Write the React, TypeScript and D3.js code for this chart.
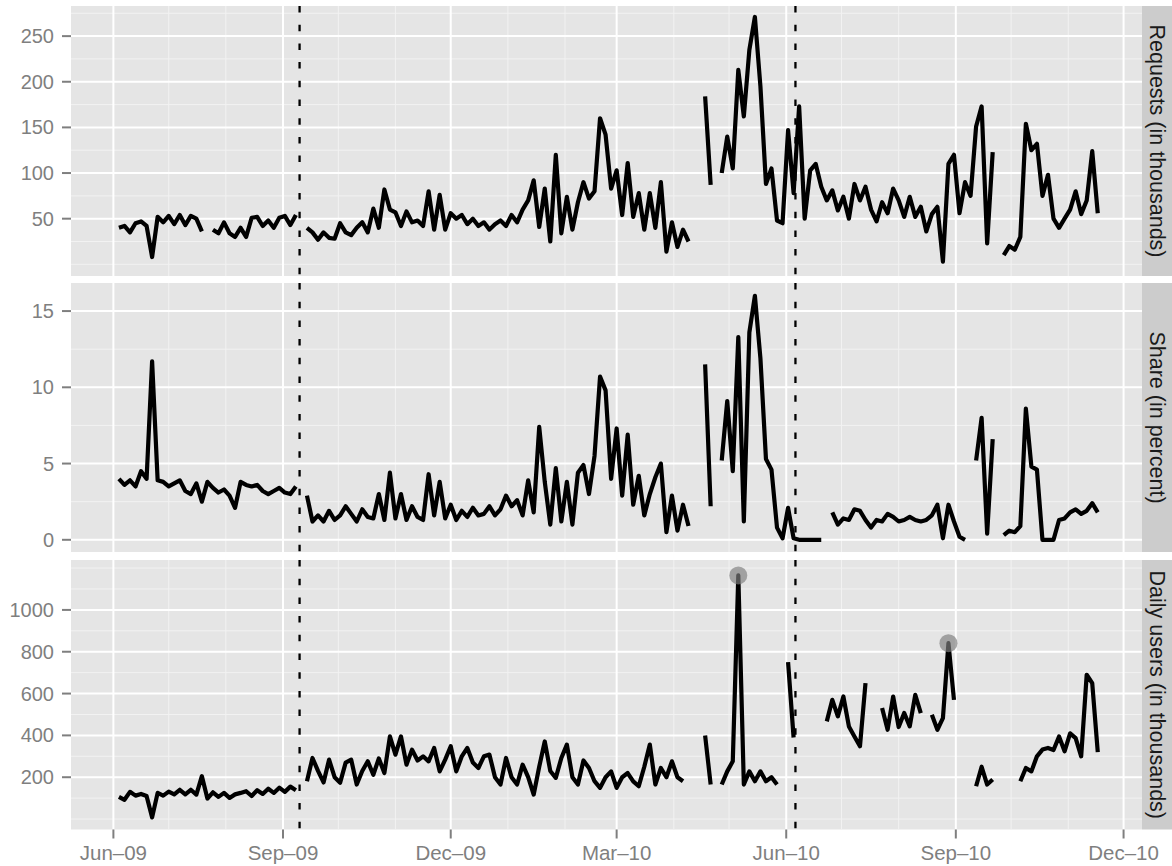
import React from "react";
import * as d3 from "d3";

// daily series sampled every 3 days, starting 4 Jun 2009 (null = missing)
const startDate = new Date(Date.UTC(2009, 5, 4));
const stepDays = 3;

const requests: (number | null)[] = [
  40, 42, 35, 45, 47, 42, 8, 52, 46, 53,
  44, 54, 43, 53, 50, 36, null, 38, 34, 46,
  34, 30, 40, 30, 51, 52, 42, 48, 40, 51,
  53, 43, 54, null, 40, 35, 27, 35, 29, 28,
  45, 35, 32, 40, 46, 35, 61, 40, 82, 60,
  57, 42, 58, 46, 48, 42, 80, 38, 76, 38,
  56, 50, 54, 44, 50, 42, 46, 38, 44, 48,
  42, 54, 46, 60, 70, 92, 41, 83, 25, 120,
  34, 74, 38, 68, 90, 72, 80, 160, 142, 83,
  103, 54, 111, 52, 78, 38, 78, 40, 90, 14,
  46, 19, 38, 25, null, null, 184, 87, null, 100,
  140, 105, 213, 162, 235, 271, 195, 88, 105, 48,
  45, 147, 78, 173, 50, 103, 110, 85, 70, 81,
  59, 74, 50, 88, 70, 85, 60, 47, 68, 56,
  83, 70, 52, 74, 52, 63, 36, 55, 63, 3,
  110, 120, 56, 90, 75, 151, 173, 23, 123, null,
  10, 20, 16, 30, 154, 125, 132, 75, 98, 50,
  40, 50, 60, 80, 55, 70, 124, 56,
];

const share: (number | null)[] = [
  4.0, 3.6, 3.9, 3.5, 4.5, 4.0, 11.7, 3.9, 3.8, 3.5,
  3.7, 3.9, 3.2, 3.0, 3.7, 2.5, 3.8, 3.4, 3.1, 3.3,
  2.9, 2.1, 3.8, 3.6, 3.5, 3.6, 3.2, 3.0, 3.2, 3.4,
  3.1, 3.0, 3.5, null, 2.9, 1.2, 1.6, 1.2, 1.9, 1.3,
  1.6, 2.2, 1.7, 1.2, 2.0, 1.5, 1.4, 3.0, 1.3, 4.4,
  1.4, 3.0, 1.3, 2.2, 1.5, 1.3, 4.3, 1.6, 3.8, 1.4,
  2.3, 1.3, 1.9, 1.5, 2.1, 1.6, 1.7, 2.2, 1.6, 2.0,
  2.9, 2.2, 2.6, 1.6, 3.9, 1.8, 7.4, 3.8, 1.0, 4.7,
  1.2, 3.8, 1.0, 4.4, 4.9, 3.0, 5.5, 10.7, 9.8, 4.0,
  7.3, 2.9, 6.9, 2.3, 4.2, 1.6, 3.0, 4.1, 5.0, 0.5,
  2.9, 0.6, 2.3, 0.9, null, null, 11.5, 2.2, null, 5.2,
  9.1, 4.5, 13.3, 1.2, 13.6, 16.0, 11.9, 5.3, 4.6, 0.8,
  0.1, 2.1, 0.1, 0, 0, 0, 0, 0, null, 1.8,
  1.0, 1.4, 1.3, 2.0, 1.9, 1.3, 0.8, 1.3, 1.2, 1.7,
  1.5, 1.2, 1.3, 1.5, 1.3, 1.2, 1.3, 1.6, 2.3, 0.1,
  2.3, 1.2, 0.2, 0.0, null, 5.2, 8.0, 0.4, 6.6, null,
  0.3, 0.6, 0.5, 0.9, 8.6, 4.8, 4.6, 0, 0, 0,
  1.3, 1.4, 1.8, 2.0, 1.7, 1.9, 2.4, 1.8,
];

const users: (number | null)[] = [
  106, 92, 130, 112, 120, 110, 8, 125, 112, 131,
  118, 140, 118, 140, 117, 205, 98, 128, 106, 125,
  101, 118, 125, 133, 110, 138, 120, 145, 125, 150,
  130, 155, 138, null, 181, 292, 230, 175, 284, 200,
  174, 270, 284, 165, 230, 276, 212, 290, 220, 395,
  308, 395, 260, 332, 280, 300, 276, 340, 228, 284,
  348, 228, 300, 340, 270, 244, 300, 308, 200, 165,
  292, 200, 165, 260, 200, 117, 250, 371, 230, 197,
  292, 356, 200, 165, 280, 244, 181, 149, 200, 228,
  149, 200, 220, 180, 157, 250, 356, 165, 244, 200,
  276, 200, 181, null, null, null, 400, 165, null, 165,
  228, 276, 1165, 165, 228, 181, 228, 181, 200, 165,
  null, 750, 390, null, null, null, null, null, 467, 570,
  491, 586, 443, 395, 348, 650, null, null, 531, 427,
  586, 440, 507, 443, 594, 507, null, 499, 427, 483,
  841, 570, null, null, null, 157, 250, 165, 189, null,
  null, null, null, 181, 244, 228, 300, 332, 340, 330,
  395, 324, 410, 387, 300, 690, 650, 320,
];

// outliers marked with a grey dot (indices into users)
const highlightIdx = [112, 150];

// vertical reference events
const eventDates = [new Date(Date.UTC(2009, 8, 10)), new Date(Date.UTC(2010, 5, 6))];

const xBreaks = [
  [2009, 5], [2009, 8], [2009, 11], [2010, 2], [2010, 5], [2010, 8], [2010, 11],
].map(([y, m]) => new Date(Date.UTC(y, m, 1)));
const xMinor = [
  [2009, 6], [2009, 7], [2009, 9], [2009, 10], [2010, 0], [2010, 1],
  [2010, 3], [2010, 4], [2010, 6], [2010, 7], [2010, 9], [2010, 10],
].map(([y, m]) => new Date(Date.UTC(y, m, 1)));

const requestBreaks = [50, 100, 150, 200, 250];
const requestMinor = [0, 25, 75, 125, 175, 225, 275];
const shareBreaks = [0, 5, 10, 15];
const shareMinor = [2.5, 7.5, 12.5];
const userBreaks = [200, 400, 600, 800, 1000];
const userMinor = [0, 100, 300, 500, 700, 900, 1100, 1200];

const W = 1172;
const H = 866;
const left = 71;
const right = 1142;
const font = "'Liberation Sans', Arial, Helvetica, sans-serif";

const panels = [
  { label: "Requests (in thousands)", values: requests, domain: [-12.8, 283], top: 6, bottom: 276, breaks: requestBreaks, minor: requestMinor, dots: [] as number[] },
  { label: "Share (in percent)", values: share, domain: [-0.8, 16.84], top: 283, bottom: 552, breaks: shareBreaks, minor: shareMinor, dots: [] as number[] },
  { label: "Daily users (in thousands)", values: users, domain: [-50, 1238.7], top: 560, bottom: 829.5, breaks: userBreaks, minor: userMinor, dots: highlightIdx },
];

function App() {
  const x = d3
    .scaleUtc()
    .domain([new Date(Date.UTC(2009, 4, 9)), new Date(Date.UTC(2010, 11, 11))])
    .range([left, right]);
  const dateAt = (i: number) => d3.utcDay.offset(startDate, i * stepDays);
  const fmt = d3.utcFormat("%b\u2013%y");

  return (
    <svg
      width={W}
      height={H}
      style={{ position: "absolute", left: 0, top: 0, background: "#fff" }}
      fontFamily={font}
    >
      {panels.map((p) => {
        const y = d3.scaleLinear().domain(p.domain).range([p.bottom, p.top]);
        const line = d3
          .line<number | null>()
          .defined((v) => v != null)
          .x((_, i) => x(dateAt(i)))
          .y((v) => y(v as number));
        const cy = (p.top + p.bottom) / 2;
        return (
          <g key={p.label}>
            <rect x={left} y={p.top} width={right - left} height={p.bottom - p.top} fill="#e5e5e5" />
            {/* minor grid */}
            {p.minor.map((v) => (
              <line key={"my" + v} x1={left} x2={right} y1={y(v)} y2={y(v)} stroke="#f2f2f2" strokeWidth={1} />
            ))}
            {xMinor.map((d) => (
              <line key={"mx" + d.getTime()} x1={x(d)} x2={x(d)} y1={p.top} y2={p.bottom} stroke="#f2f2f2" strokeWidth={1} />
            ))}
            {/* major grid */}
            {p.breaks.map((v) => (
              <line key={"gy" + v} x1={left} x2={right} y1={y(v)} y2={y(v)} stroke="#ffffff" strokeWidth={2} />
            ))}
            {xBreaks.map((d) => (
              <line key={"gx" + d.getTime()} x1={x(d)} x2={x(d)} y1={p.top} y2={p.bottom} stroke="#ffffff" strokeWidth={2} />
            ))}
            {/* event markers */}
            {eventDates.map((d) => (
              <line key={"ev" + d.getTime()} x1={x(d)} x2={x(d)} y1={p.top} y2={p.bottom} stroke="#000" strokeWidth={2.3} strokeDasharray="6.5,12.2" />
            ))}
            <path d={line(p.values) || ""} fill="none" stroke="#000" strokeWidth={4.2} strokeLinejoin="round" />
            {p.dots.map((i) => (
              <circle key={"dot" + i} cx={x(dateAt(i))} cy={y(p.values[i] as number)} r={9} fill="#7f7f7f" fillOpacity={0.67} />
            ))}
            {/* y axis */}
            {p.breaks.map((v) => (
              <g key={"ty" + v}>
                <line x1={62} x2={left} y1={y(v)} y2={y(v)} stroke="#7f7f7f" strokeWidth={2} />
                <text x={54} y={y(v)} textAnchor="end" dominantBaseline="central" fontSize={20} fill="#7f7f7f">
                  {v}
                </text>
              </g>
            ))}
            {/* strip */}
            <rect x={right} y={p.top} width={W - right} height={p.bottom - p.top} fill="#cccccc" />
            <text
              transform={`translate(${right + 15},${cy}) rotate(90)`}
              textAnchor="middle"
              dominantBaseline="central"
              fontSize={21.5}
              fill="#1a1a1a"
            >
              {p.label}
            </text>
          </g>
        );
      })}
      {/* x axis */}
      {xBreaks.map((d) => (
        <g key={"tx" + d.getTime()}>
          <line x1={x(d)} x2={x(d)} y1={829.5} y2={838.5} stroke="#7f7f7f" strokeWidth={2} />
          <text x={x(d)} y={852} textAnchor="middle" dominantBaseline="central" fontSize={20.5} fill="#7f7f7f">
            {fmt(d)}
          </text>
        </g>
      ))}
    </svg>
  );
}

export default App;
